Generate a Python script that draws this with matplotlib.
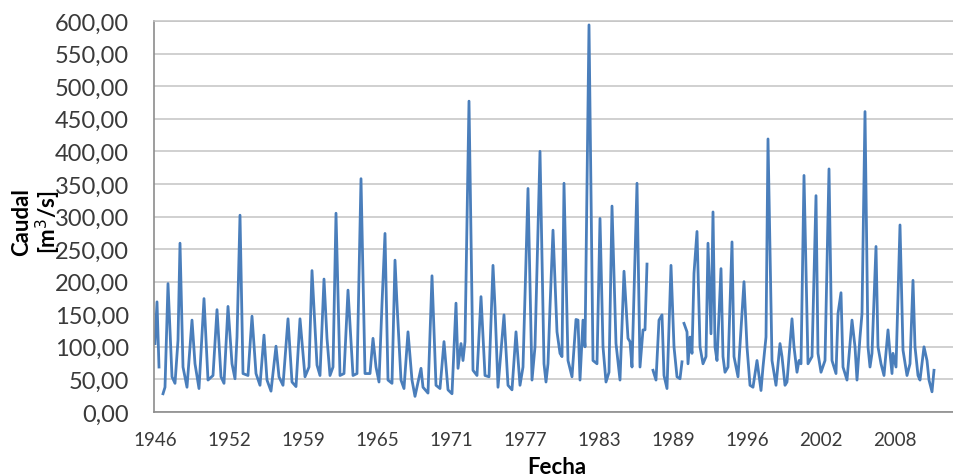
import numpy as np
import matplotlib
matplotlib.use("Agg")
import matplotlib.pyplot as plt
from matplotlib.ticker import FuncFormatter

# --- Data ---------------------------------------------------------------------
# months counted from the first record (Sep 1946); None marks a break in the record
months = [
    0, 2, 4, None, 8, 10, 13, 17, 20, 23,
    25, 28, 32, 37, 40, 44, 49, 53, 58, 62,
    66, 69, 73, 77, 80, 82, 85, 88, 93, 97,
    101, 105, 109, 112, 116, 121, 124, 128, 133, 137,
    141, 145, 150, 154, 157, 162, 165, 169, 172, 175,
    178, 181, 185, 189, 193, 198, 202, 206, 210, 215,
    218, 221, 224, 227, 230, 233, 237, 240, 242, 246,
    249, 253, 257, 260, 266, 268, 273, 277, 281, 285,
    289, 293, 297, 301, 303, 306, 308, 310, 314, 318,
    322, 326, 330, 334, 338, 340, 343, 349, 353, 357,
    361, 365, 368, 373, 377, 380, 385, 389, 391,
    393, 395, 398, 402, 405, 407, 409, 413, 417, 421,
    423, 425, 428, 430, 434, 438, 442, 445, 448, 451,
    454, 457, 461, 465, 469, 473, 475, 477, 482, 485,
    488, 490, 492, None,
    498, 501, 504, 507, 509, 512, 516, 519, 522, 525,
    527, None,
    529, 532, 533, 535, 537, 539, 542, 545, 548, 551,
    553, 556, 558, 560, 562, 566, 568, 570, 573, 577,
    579, 583, 589, 592, 595, 598, 602, 604, 606, 608,
    611, 613, 617, 621, 625, 627, 630, 632, 637, 639,
    642, 644, 646, 649, 653, 657, 661, 663, 666, 670,
    674, 677, 681, 683, 686, 688, 692, 697, 700, 702,
    705, 707, 710, 713, 715, 717, 721, 723, 726, 729,
    733, 735, 737, 738, 741, 745, 748, 752, 755, 758,
    760, 763, 765, 769, 772, 774, 777, 779,
]
caudal = [
    105, 169, 69, None, 28, 38, 197, 54, 44, 110,
    259, 69, 38, 141, 74, 36, 174, 49, 56, 157,
    54, 44, 162, 74, 51, 115, 302, 59, 56, 147,
    59, 41, 118, 49, 32, 101, 54, 41, 143, 46,
    39, 143, 54, 69, 217, 72, 56, 204, 113, 56,
    69, 305, 56, 59, 187, 56, 59, 358, 59, 59,
    113, 69, 46, 166, 274, 49, 44, 233, 166, 49,
    36, 123, 49, 24, 67, 38, 29, 209, 41, 36,
    108, 34, 28, 167, 67, 105, 79, 108, 477, 64,
    56, 177, 56, 54, 225, 161, 38, 149, 41, 34,
    123, 41, 69, 343, 49, 100, 400, 74, 46,
    74, 161, 279, 123, 90, 85, 351, 79, 54, 142,
    141, 49, 141, 100, 594, 79, 74, 297, 100, 46,
    61, 316, 105, 49, 216, 113, 108, 69, 351, 69,
    126, 126, 227, None,
    64, 49, 141, 149, 56, 36, 225, 100, 54, 51,
    77, None,
    136, 123, 74, 115, 90, 213, 277, 100, 74, 85,
    259, 120, 307, 100, 79, 220, 85, 61, 69, 261,
    85, 54, 200, 100, 41, 38, 79, 56, 33, 69,
    115, 419, 79, 41, 105, 85, 41, 46, 143, 100,
    61, 79, 74, 363, 74, 85, 332, 90, 61, 79,
    373, 79, 59, 151, 183, 69, 49, 141, 100, 49,
    115, 151, 461, 100, 69, 90, 254, 100, 74, 56,
    126, 90, 59, 90, 69, 287, 95, 56, 74, 202,
    100, 56, 49, 100, 79, 49, 31, 64,
]
year_labels = ["1946", "1952", "1959", "1965", "1971", "1977",
               "1983", "1989", "1996", "2002", "2008"]
label_step = 74  # months between category labels

assert len(months) == len(caudal)
x = np.array([np.nan if m is None else m for m in months], dtype=float)
y = np.array([np.nan if v is None else v for v in caudal], dtype=float)

# --- Plot ---------------------------------------------------------------------
plt.rcParams["font.family"] = ["Lato", "DejaVu Sans"]

W, H = 954, 477
fig = plt.figure(figsize=(W / 100, H / 100), dpi=100)
left, right, top, bottom = 154, 954, 22, 413
ax = fig.add_axes([left / W, 1 - bottom / H, (right - left) / W, (bottom - top) / H])

ax.plot(x, y, color="#4a7ebb", lw=2.0, solid_joinstyle="round")

ax.set_xlim(-1, 799)
ax.set_ylim(0, 600)
ax.set_yticks(np.arange(0, 601, 50))
ax.yaxis.set_major_formatter(FuncFormatter(lambda v, p: f"{v:.2f}".replace(".", ",")))
ax.set_xticks(np.arange(len(year_labels)) * label_step)
ax.set_xticklabels(year_labels)

ax.grid(axis="y", color="#c4c4c4", lw=1.1)
ax.set_axisbelow(True)
ax.tick_params(axis="y", length=0, pad=18, labelsize=17, labelcolor="#3a3a3a")
ax.tick_params(axis="x", length=0, pad=14, labelsize=13.5, labelcolor="#3a3a3a")

for s in ("left", "bottom"):
    ax.spines[s].set_color("#8c8c8c")
    ax.spines[s].set_linewidth(1.2)
ax.spines["top"].set_color("#c4c4c4")
ax.spines["top"].set_linewidth(1.1)
ax.spines["right"].set_visible(False)

fig.text(37 / W, 1 - 222 / H, "Caudal\n[m$^3$/s]", rotation=90, ha="center",
         va="center", multialignment="center", fontsize=16, fontweight="bold",
         linespacing=1.05)
fig.text(557 / W, 1 - 468 / H, "Fecha", ha="center", va="center",
         fontsize=16, fontweight="bold")

fig.savefig("out.png", dpi=100)
